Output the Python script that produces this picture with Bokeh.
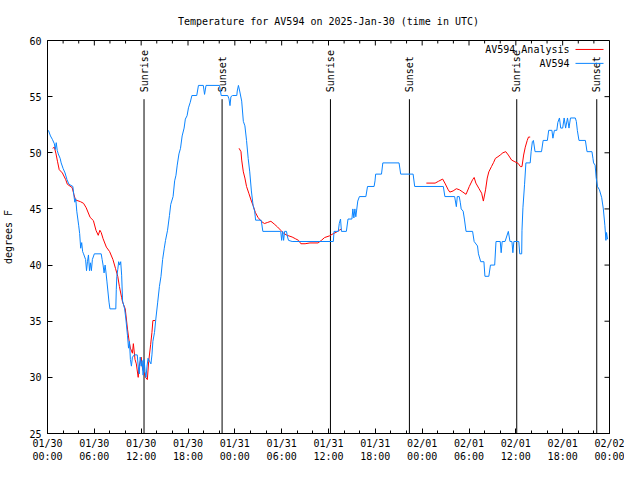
import math
import numpy as np
import pandas as pd
from bokeh.plotting import figure
from bokeh.models import (Range1d, LinearAxis, DatetimeAxis, FixedTicker,
                          DatetimeTickFormatter)
from bokeh.embed import file_html
from bokeh.resources import INLINE
from bokeh.core.properties import value

title_text = "Temperature for AV594 on 2025-Jan-30 (time in UTC)"
start_time = "2025-01-30 00:00"
end_time = "2025-02-02 00:00"
y_label = "degrees F"
y_min, y_max = 25, 60
y_ticks = [25, 30, 35, 40, 45, 50, 55, 60]
x_major_hours = 6
x_minor_hours = 2

# AV594 observations: (hours after start, degrees F)
obs_points = [
    (0.12, 52.0), (0.38, 51.5), (0.62, 51.2), (0.88, 50.8), (1.0, 50.3), (1.12, 50.9),
    (1.25, 50.2), (1.38, 49.9), (1.62, 49.5), (1.75, 49.1), (2.0, 48.6), (2.25, 48.2),
    (2.5, 47.6), (2.75, 47.2), (3.25, 47.0), (3.38, 46.2), (3.5, 45.6), (3.62, 45.9),
    (3.75, 44.8), (4.0, 43.5), (4.12, 42.8), (4.25, 41.5), (4.38, 42.0), (4.5, 41.2),
    (4.62, 41.0), (4.88, 40.5), (5.0, 39.5), (5.12, 40.3), (5.25, 40.9), (5.38, 39.5),
    (5.5, 40.2), (5.62, 39.5), (5.75, 40.5), (6.0, 41.0), (6.88, 41.0), (7.0, 40.5),
    (7.12, 40.0), (7.25, 39.3), (7.38, 40.0), (7.5, 39.3), (7.62, 38.5), (7.88, 36.7),
    (8.0, 36.1), (8.75, 36.1), (8.81, 37.8), (8.88, 39.0), (9.0, 39.6), (9.12, 40.3),
    (9.25, 40.0), (9.38, 40.3), (9.5, 39.1), (9.62, 36.8), (9.88, 36.1), (10.04, 35.2),
    (10.25, 33.7), (10.38, 32.6), (10.5, 33.2), (10.62, 31.6), (10.75, 31.0), (10.88, 31.8),
    (11.12, 32.0), (11.5, 32.0), (11.62, 31.0), (11.75, 30.3), (11.88, 31.8), (12.0, 31.0),
    (12.12, 31.5), (12.25, 30.2), (12.38, 31.6), (12.5, 30.5), (12.62, 30.0), (12.75, 31.0),
    (12.88, 31.7), (13.25, 31.2), (13.38, 32.0), (13.5, 33.2), (13.71, 34.0), (13.88, 35.2),
    (14.12, 36.7), (14.34, 38.1), (14.54, 39.0), (14.75, 40.5), (14.96, 41.5), (15.12, 42.2),
    (15.38, 43.1), (15.62, 44.4), (15.79, 45.4), (16.09, 46.1), (16.29, 47.5), (16.46, 48.0),
    (16.62, 48.9), (16.84, 49.9), (17.04, 50.4), (17.25, 51.5), (17.5, 52.2), (17.66, 53.0),
    (17.88, 53.3), (18.06, 54.0), (18.29, 54.5), (18.5, 55.1), (19.12, 55.1), (19.34, 56.0),
    (19.96, 56.0), (20.12, 55.2), (20.31, 56.0), (22.04, 56.0), (22.25, 55.1), (23.09, 55.1),
    (23.25, 54.8), (23.38, 54.2), (23.5, 55.0), (23.71, 55.1), (24.25, 55.1), (24.31, 55.5),
    (24.46, 56.0), (24.62, 55.5), (24.88, 54.6), (25.09, 52.8), (25.29, 52.4), (25.5, 51.1),
    (25.71, 49.5), (25.91, 48.3), (26.12, 46.6), (26.34, 45.3), (26.54, 44.8), (26.66, 44.0),
    (27.38, 44.0), (27.59, 43.0), (29.88, 43.0), (30.0, 42.2), (30.12, 43.0), (30.25, 42.2),
    (30.38, 43.0), (30.62, 43.0), (30.75, 42.5), (30.88, 42.2), (31.34, 42.1), (36.62, 42.1),
    (36.71, 43.0), (37.25, 43.0), (37.38, 43.7), (37.54, 44.1), (37.66, 43.0), (38.29, 43.0),
    (38.5, 44.1), (39.0, 44.1), (39.12, 45.0), (39.25, 44.2), (39.38, 45.0), (39.5, 44.3),
    (39.75, 45.7), (39.96, 46.1), (40.79, 46.1), (41.0, 47.0), (41.84, 47.0), (41.96, 47.5),
    (42.04, 48.1), (42.79, 48.1), (42.96, 49.1), (45.04, 49.1), (45.25, 48.1), (46.84, 48.1),
    (47.04, 47.0), (50.71, 47.0), (50.91, 46.1), (52.16, 46.1), (52.38, 45.2), (52.5, 46.1),
    (52.75, 46.1), (52.88, 45.6), (53.0, 45.0), (53.25, 44.8), (53.41, 44.1), (53.62, 43.0),
    (54.46, 43.0), (54.66, 42.1), (55.09, 41.7), (55.21, 41.0), (55.5, 40.3), (55.91, 40.3),
    (56.04, 39.0), (56.54, 39.0), (56.75, 40.0), (57.29, 40.0), (57.46, 42.1), (58.0, 42.1),
    (58.12, 41.1), (58.25, 42.1), (58.62, 42.1), (59.04, 43.0), (59.25, 42.1), (59.5, 42.1),
    (59.62, 41.1), (59.75, 42.1), (60.38, 42.1), (60.5, 41.0), (60.75, 41.0), (60.79, 43.1),
    (60.91, 45.1), (61.12, 47.2), (61.29, 49.1), (61.84, 49.1), (61.96, 50.1), (62.12, 51.0),
    (62.25, 51.1), (62.46, 50.1), (63.29, 50.1), (63.5, 51.1), (64.04, 51.1), (64.21, 52.0),
    (64.62, 52.0), (64.75, 51.3), (64.94, 52.0), (65.25, 52.0), (65.38, 52.7), (65.59, 53.1),
    (65.75, 52.2), (66.0, 52.2), (66.19, 53.1), (66.38, 52.2), (66.62, 53.1), (66.81, 52.2),
    (67.0, 53.1), (67.62, 53.1), (67.75, 52.8), (67.88, 52.0), (68.09, 51.1), (68.91, 51.1),
    (69.12, 50.1), (69.75, 50.1), (69.88, 49.5), (69.96, 49.1), (70.16, 48.9), (70.29, 47.8),
    (70.46, 47.0), (70.71, 46.7), (71.0, 46.0), (71.21, 45.0), (71.41, 43.5), (71.54, 42.2),
    (71.62, 42.9), (71.75, 42.3),
]

# AV594 analysis, three separate runs: (hours after start, degrees F)
analysis_run1 = [
    (0.66, 50.4), (0.88, 50.5), (1.09, 49.9), (1.29, 49.2), (1.5, 48.5), (1.91, 48.2),
    (2.34, 47.6), (2.54, 47.2), (3.16, 46.9), (3.38, 46.3), (3.59, 45.8), (4.21, 45.65),
    (4.62, 45.5), (4.96, 45.1), (5.46, 44.25), (5.88, 43.96), (6.21, 43.1), (6.5, 42.65),
    (6.71, 43.1), (6.88, 42.9), (7.12, 42.35), (7.54, 41.6), (7.96, 41.2), (8.38, 40.5),
    (8.71, 39.7), (9.0, 39.0), (9.21, 38.1), (9.5, 37.1), (9.62, 36.7), (9.96, 36.1),
    (10.25, 34.3), (10.46, 33.2), (10.62, 32.6), (10.88, 32.15), (11.0, 33.0), (11.21, 31.6),
    (11.38, 31.2), (11.62, 30.0), (11.75, 31.0), (12.0, 31.8), (12.12, 31.0), (12.25, 30.6),
    (12.44, 30.3), (12.56, 30.0), (12.79, 29.8), (12.96, 31.4), (13.21, 32.9), (13.38, 34.0),
    (13.5, 35.06), (13.79, 35.06),
]
analysis_run2 = [
    (24.54, 50.4), (24.79, 50.1), (24.88, 49.35), (25.09, 48.3), (25.29, 47.75), (25.5, 47.0),
    (25.79, 46.4), (26.12, 45.7), (26.34, 45.3), (26.62, 44.7), (26.96, 44.25), (27.38, 43.9),
    (27.79, 43.7), (28.21, 43.8), (28.62, 43.9), (29.04, 43.66), (29.46, 43.4), (29.88, 43.1),
    (30.29, 42.8), (30.71, 42.65), (31.34, 42.5), (31.75, 42.35), (32.16, 42.2), (32.46, 41.9),
    (33.0, 41.9), (33.62, 41.97), (34.66, 41.97), (35.09, 42.2), (35.5, 42.45), (36.12, 42.6),
    (36.62, 42.8), (37.04, 42.94), (37.46, 43.14), (37.66, 43.2),
]
analysis_run3 = [
    (48.54, 47.3), (49.66, 47.3), (50.09, 47.46), (50.62, 47.66), (50.91, 47.3), (51.34, 46.7),
    (51.54, 46.5), (51.96, 46.6), (52.38, 46.8), (52.79, 46.7), (53.21, 46.5), (53.62, 46.3),
    (54.04, 47.0), (54.46, 47.6), (54.66, 47.8), (54.88, 47.3), (55.29, 46.8), (55.62, 46.4),
    (55.84, 45.7), (56.12, 46.7), (56.34, 47.75), (56.54, 48.3), (56.88, 48.77), (57.16, 49.15),
    (57.38, 49.5), (57.71, 49.65), (58.0, 49.8), (58.34, 50.0), (58.71, 50.1), (59.04, 49.8),
    (59.46, 49.35), (59.88, 49.2), (60.29, 49.06), (60.59, 48.77), (60.79, 48.77), (61.0, 49.8),
    (61.21, 50.5), (61.46, 51.1), (61.62, 51.4), (61.84, 51.4),
]

sun_events = ["Sunrise", "Sunset", "Sunrise", "Sunset", "Sunrise", "Sunset"]
sun_times = ["2025-01-30 12:22", "2025-01-30 22:22", "2025-01-31 12:15",
             "2025-01-31 22:22", "2025-02-01 12:07", "2025-02-01 22:22"]

series_names = ["AV594 Analysis", "AV594"]

FONT = "DejaVu Sans Mono"
OBS_COLOR = "#0a84ff"
ANA_COLOR = "#ff0000"

# layout (pixels)
W, H = 624, 464
LEFT, TOP, RIGHT_B, BOTTOM_B = 47, 40, 15, 29
FRAME_W = W - LEFT - RIGHT_B
FRAME_H = H - TOP - BOTTOM_B

t0_ms = pd.Timestamp(start_time).value / 1e6
t1_ms = pd.Timestamp(end_time).value / 1e6
HOUR = 3600000.0

def to_ms(hours):
    return [t0_ms + h * HOUR for h in hours]

obs_x = to_ms([h for h, _ in obs_points])
obs_y = [t for _, t in obs_points]

ana_x, ana_y = [], []
for run in (analysis_run1, analysis_run2, analysis_run3):
    if ana_x:
        ana_x.append(float("nan"))
        ana_y.append(float("nan"))
    ana_x += to_ms([h for h, _ in run])
    ana_y += [t for _, t in run]

sun_x = [pd.Timestamp(s).value / 1e6 for s in sun_times]

span_hours = (t1_ms - t0_ms) / HOUR
major_ticks = [t0_ms + h * HOUR for h in np.arange(0, span_hours + 0.1, x_major_hours)]
minor_ticks = [t0_ms + h * HOUR for h in np.arange(0, span_hours + 0.1, x_minor_hours)]

px_x = (t1_ms - t0_ms) / FRAME_W      # data units per pixel
px_y = (y_max - y_min) / FRAME_H

p = figure(width=W, height=H, x_range=Range1d(t0_ms, t1_ms), y_range=Range1d(y_min, y_max),
           x_axis_type=None, y_axis_type=None, output_backend="svg", toolbar_location=None,
           min_border_left=LEFT, min_border_right=RIGHT_B, min_border_top=TOP,
           min_border_bottom=BOTTOM_B)
p.background_fill_color = "white"
p.border_fill_color = "white"
p.outline_line_color = "black"
p.outline_line_width = 1

p.title.text = title_text
p.title.align = "center"
p.title.text_font = FONT
p.title.text_font_size = "10px"
p.title.text_font_style = "normal"
p.title.text_color = "black"
p.title.standoff = 27

fmt = "%m/%d\n%H:%M"
formatter = DatetimeTickFormatter(milliseconds=fmt, seconds=fmt, minsec=fmt, minutes=fmt,
                                  hourmin=fmt, hours=fmt, days=fmt, months=fmt, years=fmt)

def style_axis(ax):
    ax.axis_line_color = "black"
    ax.major_tick_line_color = "black"
    ax.minor_tick_line_color = "black"
    ax.major_tick_in = 5
    ax.major_tick_out = 0
    ax.minor_tick_in = 3
    ax.minor_tick_out = 0
    ax.major_label_text_font = FONT
    ax.major_label_text_color = "black"
    ax.major_label_text_font_size = "10px"

xb = DatetimeAxis(ticker=FixedTicker(ticks=major_ticks, minor_ticks=minor_ticks),
                  formatter=formatter)
style_axis(xb)
xb.major_label_standoff = 4
p.add_layout(xb, "below")

yl = LinearAxis(ticker=FixedTicker(ticks=y_ticks, minor_ticks=[]), axis_label=y_label)
style_axis(yl)
yl.major_label_standoff = 6
yl.axis_label_text_font = FONT
yl.axis_label_text_font_size = "10px"
yl.axis_label_text_font_style = "normal"
yl.axis_label_text_color = "black"
yl.axis_label_standoff = 12
p.add_layout(yl, "left")

# mirrored ticks on top and right borders
top_len = [5 * px_y if (t - t0_ms) % (x_major_hours * HOUR) == 0 else 3 * px_y for t in minor_ticks]
p.segment(x0=minor_ticks, y0=[y_max] * len(minor_ticks), x1=minor_ticks,
          y1=[y_max - l for l in top_len], line_color="black", line_width=1)
p.segment(x0=[t1_ms] * len(y_ticks), y0=y_ticks, x1=[t1_ms - 5 * px_x] * len(y_ticks),
          y1=y_ticks, line_color="black", line_width=1)

# Sunrise / sunset markers
line_top = y_max - 59 * px_y
label_base = y_max - 52 * px_y
p.segment(x0=sun_x, y0=[y_min] * len(sun_x), x1=sun_x, y1=[line_top] * len(sun_x),
          line_color="black", line_width=1)
p.text(x=sun_x, y=[label_base] * len(sun_x), text=sun_events, angle=math.pi / 2,
       text_align="left", text_baseline="middle", text_font=value(FONT),
       text_font_size="10px", text_color="black")

# Series
p.line(ana_x, ana_y, line_color=ANA_COLOR, line_width=1)
p.line(obs_x, obs_y, line_color=OBS_COLOR, line_width=1)

# gnuplot-style key: text, then a line sample to its right (placed from pixel offsets)
key_text_px = FRAME_W - 40          # right edge of key text, px from frame left
key_rows_px = [9, 23]               # px below frame top
key_colors = [ANA_COLOR, OBS_COLOR]
kx_text = t0_ms + key_text_px * px_x
kx0 = t0_ms + (key_text_px + 6) * px_x
kx1 = t0_ms + (key_text_px + 34) * px_x
ky = [y_max - r * px_y for r in key_rows_px]
p.text(x=[kx_text] * 2, y=ky, text=series_names, text_align="right", text_baseline="middle",
       text_font=value(FONT), text_font_size="10px", text_color="black")
p.segment(x0=[kx0] * 2, y0=ky, x1=[kx1] * 2, y1=ky, line_color=key_colors, line_width=1)

open("out.html", "w").write(file_html(p, INLINE))
